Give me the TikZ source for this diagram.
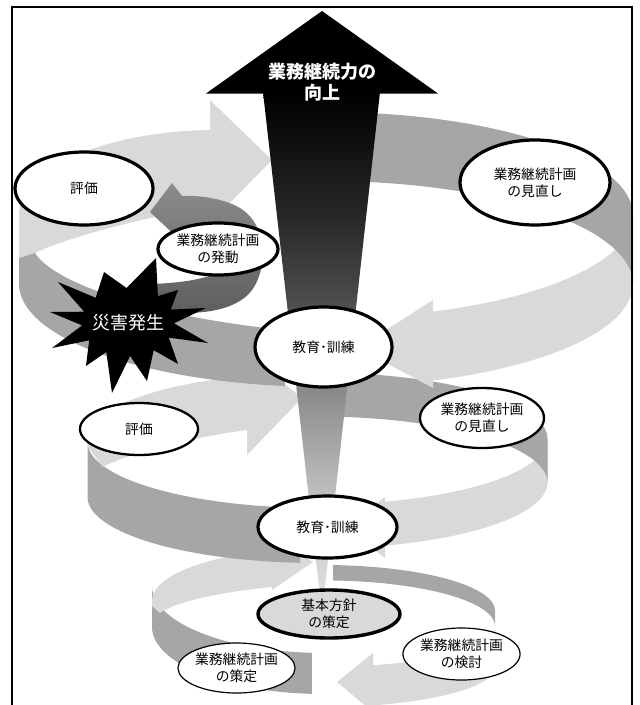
\documentclass[tikz,border=0pt]{standalone}
\usepackage{fontspec}
\setmainfont{Noto Sans CJK JP}
\usetikzlibrary{shapes.geometric}
\definecolor{lightband}{HTML}{D9D9D9}
\definecolor{midband}{HTML}{A6A6A6}
\pgfdeclareverticalshading{shaftshade}{100bp}{color(0bp)=(black!10); color(25bp)=(black!10); color(36.9bp)=(black!26); color(46.5bp)=(black!46); color(55bp)=(black!70); color(62.7bp)=(black!84); color(75bp)=(black); color(100bp)=(black)}
\begin{document}
\begin{tikzpicture}[x=1pt,y=-1pt,
  bubble/.style={ellipse, draw, fill=white, inner sep=0pt, align=center, font=\fontsize{13.8}{17}\selectfont},
  thickrim/.style={line width=3.2pt},
  midrim/.style={line width=2.3pt},
  thinrim/.style={line width=1.2pt},
  lightpart/.style={fill=lightband},
  midpart/.style={fill=midband}]
\useasboundingbox (0,0) rectangle (640,705);
% ---------------- ring 3 (bottom) ----------------
\fill[lightpart] plot[domain=0:73.2,samples=30,variable=\t] ({323.5+171.5*cos(\t)},{627+40*sin(\t)}) -- (373,653) -- (337,682) -- (373,712) -- plot[domain=73.2:0,samples=30,variable=\t] ({323.5+171.5*cos(\t)},{667+40*sin(\t)}) -- cycle;
\fill[midpart] plot[domain=180:93.85,samples=40,variable=\t] ({323.5+171.5*cos(\t)},{586+67*sin(\t)}) -- plot[domain=93.85:180,samples=40,variable=\t] ({323.5+171.5*cos(\t)},{627+67*sin(\t)}) -- cycle;
\fill[lightpart] plot[domain=180:252.5,samples=30,variable=\t] ({323.5+171.5*cos(\t)},{600.5+52.8*sin(\t)}) -- (272,534) -- (313,562) -- (272,590) -- (272,587) .. controls (220,592) and (175,602) .. (160,613) -- (152,606) -- cycle;
\fill[midpart] plot[domain=273.2:360,samples=40,variable=\t] ({323.5+171.5*cos(\t)},{610.6+45.6*sin(\t)}) -- plot[domain=360:273.2,samples=40,variable=\t] ({323.5+171.5*cos(\t)},{626+45.6*sin(\t)}) -- cycle;
% ---------------- ring 2 (middle) ----------------
\fill[lightpart] plot[domain=0:72.93,samples=30,variable=\t] ({317.5+230*cos(\t)},{438.6+66*sin(\t)}) -- (385,497) -- (345,527) -- (385,558) -- plot[domain=72.93:0,samples=30,variable=\t] ({317.5+230*cos(\t)},{482.5+66*sin(\t)}) -- cycle;
\fill[midpart] plot[domain=180:94.36,samples=40,variable=\t] ({317.5+230*cos(\t)},{442+66*sin(\t)}) -- plot[domain=94.36:180,samples=40,variable=\t] ({317.5+230*cos(\t)},{497+66*sin(\t)}) -- cycle;
\fill[lightpart] plot[domain=180:252.15,samples=30,variable=\t] ({317.5+230*cos(\t)},{438.6+66*sin(\t)}) -- (247,354) -- (302,398) -- (247,455) -- (247,430) .. controls (200,436) and (130,452) .. (103,467) -- (88,447) -- cycle;
\fill[midpart] plot[domain=274.4:360,samples=40,variable=\t] ({317.5+230*cos(\t)},{438.6+66*sin(\t)}) -- plot[domain=360:274.4,samples=40,variable=\t] ({317.5+230*cos(\t)},{482.5+66*sin(\t)}) -- cycle;
% ---------------- ring 1 (top) ----------------
\fill[lightpart] plot[domain=0:69.6,samples=30,variable=\t] ({326+307*cos(\t)},{215+103*sin(\t)}) -- (433,300) -- (358,348) -- (433,388) -- plot[domain=69.6:0,samples=30,variable=\t] ({326+307*cos(\t)},{284+103*sin(\t)}) -- cycle;
\fill[midpart] (19,240) -- (35,253) .. controls (55,285) and (160,318) .. (285,330) -- plot[domain=97.7:180,samples=40,variable=\t] ({326+307*cos(\t)},{284+103*sin(\t)}) -- cycle;
\fill[lightpart] (19,258) -- (19,214) .. controls (20,170) and (100,132) .. (210,130) -- (210,100) -- (272,160) -- (222,211) -- (205,207) .. controls (140,218) and (60,240) .. (35,253) -- cycle;
\fill[midpart] plot[domain=270.7:360,samples=40,variable=\t] ({326+307*cos(\t)},{215+103*sin(\t)}) -- plot[domain=360:270.7,samples=40,variable=\t] ({326+307*cos(\t)},{284+103*sin(\t)}) -- cycle;
% ---------------- activation arrow ----------------
\shade[top color=black!45, bottom color=black!64] (120,298) .. controls (160,318) and (230,320) .. (252,290) .. controls (268,268) and (268,225) .. (240,208) .. controls (225,199) and (200,195) .. (182,196) -- (172,183) -- (150,212) -- (180,240) .. controls (215,230) and (238,245) .. (230,262) .. controls (222,280) and (170,285) .. (130,284) -- cycle;
% ---------------- disaster star ----------------
\fill[black] (206,308) -- (174,323.3) -- (208,343) -- (168.8,337.6) -- (178,364) -- (153.7,350.2) -- (147,381) -- (130.1,356) -- (112,393) -- (106.3,352) -- (86,366) -- (89.2,340.3) -- (52,348) -- (82.2,325.4) -- (50,312) -- (84.2,311.7) -- (58,282) -- (95.7,297.8) -- (104,272) -- (126.6,288) -- (156,258) -- (157.9,296.1) -- (178,290) -- (170.8,309.6) -- cycle;
\node[text=white, font=\fontsize{18}{20}\selectfont] (disaster) at (128,323) {災害発生};
% ---------------- big arrow ----------------
\shade[shading=shaftshade] (263,92) -- (380,92) -- (322,614) -- cycle;
\fill[black] (206,93.5) -- (322,11) -- (438,93.5) -- cycle;
\node[text=white, align=center, font=\fontsize{18}{21}\selectfont\bfseries] (goal) at (322,82) {業務継続力の\\向上};
% ---------------- ellipses ----------------
\node[bubble, thickrim, minimum width=138pt, minimum height=73pt] (evalA) at (84,188.5) {評価};
\node[bubble, thickrim, minimum width=150pt, minimum height=85pt] (reviewA) at (535,182.5) {業務継続計画\\の見直し};
\node[bubble, thickrim, minimum width=120pt, minimum height=52pt] (invoke) at (218,249) {業務継続計画\\の発動};
\node[bubble, thickrim, minimum width=137pt, minimum height=80pt] (trainA) at (323.5,347) {教育･訓練};
\node[bubble, midrim, minimum width=118pt, minimum height=52pt] (evalB) at (139,429) {評価};
\node[bubble, midrim, minimum width=124pt, minimum height=60pt] (reviewB) at (482,418) {業務継続計画\\の見直し};
\node[bubble, thickrim, minimum width=139pt, minimum height=62pt] (trainB) at (327.5,527) {教育･訓練};
\node[bubble, line width=3.4pt, fill=lightband, minimum width=142pt, minimum height=48pt] (policy) at (329,614) {基本方針\\の策定};
\node[bubble, thinrim, minimum width=117pt, minimum height=50pt] (makeplan) at (236.5,668) {業務継続計画\\の策定};
\node[bubble, thinrim, minimum width=117pt, minimum height=52pt] (study) at (461.5,654) {業務継続計画\\の検討};
% ---------------- frame ----------------
\draw[line width=1.3pt] (12,705) -- (12,7) -- (632,7) -- (632,705);
\end{tikzpicture}
\end{document}
